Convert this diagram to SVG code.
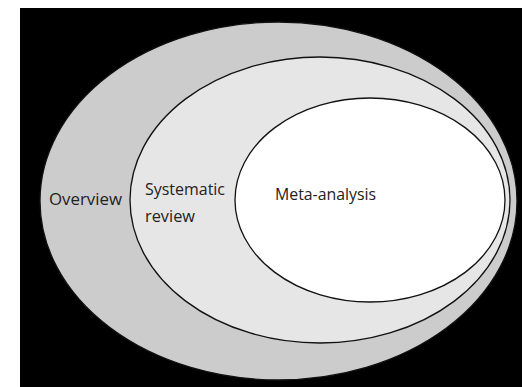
<svg xmlns="http://www.w3.org/2000/svg" width="522" height="387" viewBox="0 0 522 387">
<style>
.lbl{font-family:"Open Sans","Liberation Sans",sans-serif;font-size:16.5px;fill:#222}
.ring{stroke:#111;stroke-width:1.3}
</style>
<rect x="0" y="0" width="522" height="387" fill="#fff"/>
<rect x="20" y="8" width="502" height="379" fill="#000"/>
<g id="overview">
<ellipse class="ring" cx="278.5" cy="201" rx="238.5" ry="179" fill="#cccccc" stroke="#555"/>
<text class="lbl" x="49" y="205" textLength="73" lengthAdjust="spacingAndGlyphs">Overview</text>
</g>
<g id="systematic-review">
<ellipse class="ring" cx="320" cy="200" rx="190" ry="143" fill="#e6e6e6"/>
<text class="lbl" x="145" y="195" textLength="80" lengthAdjust="spacingAndGlyphs">Systematic</text>
<text class="lbl" x="145" y="222" textLength="50" lengthAdjust="spacingAndGlyphs">review</text>
</g>
<g id="meta-analysis">
<ellipse class="ring" cx="370" cy="200" rx="135" ry="102" fill="#fff"/>
<text class="lbl" x="275" y="200" textLength="101" lengthAdjust="spacingAndGlyphs">Meta-analysis</text>
</g>
<g id="connectors"/>
</svg>
